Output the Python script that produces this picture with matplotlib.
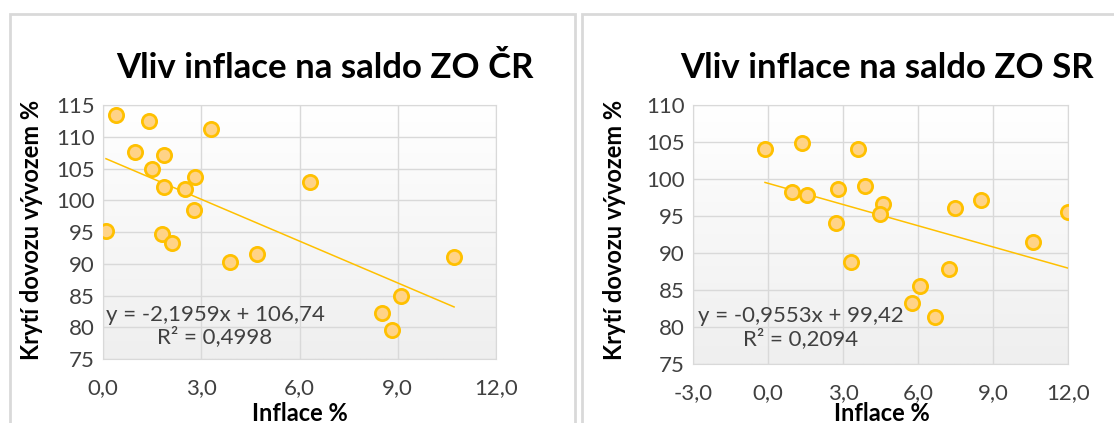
import numpy as np
import matplotlib.pyplot as plt
from matplotlib.patches import Rectangle

plt.rcParams['font.family'] = ['Lato', 'DejaVu Sans']

# data (inflation %, export/import coverage %)
cz_inflace = [0.41, 1.40, 3.29, 0.99, 1.87, 1.50, 2.81, 6.32, 1.87, 2.51,
              2.79, 0.09, 1.81, 2.11, 3.89, 4.69, 10.72, 9.10, 8.52, 8.82]
cz_kryti = [113.5, 112.5, 111.2, 107.6, 107.2, 105.0, 103.6, 102.8, 102.1, 101.8,
            98.5, 95.1, 94.7, 93.2, 90.3, 91.5, 91.1, 85.0, 82.3, 79.6]
cz_trend = (-2.1959, 106.74)
cz_r2 = 0.4998

sk_inflace = [-0.12, 1.36, 3.58, 0.96, 1.56, 2.81, 3.88, 4.59, 4.48, 2.70,
              7.46, 8.51, 11.98, 10.58, 3.32, 7.25, 6.07, 5.76, 6.69]
sk_kryti = [104.1, 104.8, 104.1, 98.2, 97.8, 98.7, 99.0, 96.6, 95.3, 94.1,
            96.1, 97.2, 95.5, 91.5, 88.8, 87.9, 85.5, 83.2, 81.4]
sk_trend = (-0.9553, 99.42)
sk_r2 = 0.2094

GOLD = '#FFC000'
FILL = '#FFD387'
GRID = '#d9d9d9'
TXT = '#404040'

fig = plt.figure(figsize=(11.14, 4.23), dpi=100)

# chart frames
for x0, w in [(10, 565), (582, 540)]:
    fig.add_artist(Rectangle((x0 / 1114, -0.1), w / 1114, (423 - 14) / 423 + 0.1,
                             transform=fig.transFigure, fill=False,
                             edgecolor=GRID, linewidth=2))


def fmt(v, _=None):
    return f'{v:.1f}'.replace('.', ',')


def draw(ax, x, y, trend, r2, xlim, ylim, title, title_x, ylab_x, xlab_x, eq_pos):
    grad = np.linspace(1, 0, 100).reshape(-1, 1)
    ax.imshow(grad, extent=[0, 1, 0, 1], transform=ax.transAxes, aspect='auto',
              cmap=plt.matplotlib.colors.LinearSegmentedColormap.from_list(
                  'g', ['#efefef', '#ffffff']), zorder=0)
    ax.scatter(x, y, s=105, facecolor=FILL, edgecolor=GOLD, linewidth=2, zorder=3)
    xs = np.array([min(x), max(x)])
    ax.plot(xs, trend[0] * xs + trend[1], color=GOLD, linewidth=1.1, zorder=2)
    ax.set_xlim(*xlim)
    ax.set_ylim(*ylim)
    ax.set_xticks(np.arange(xlim[0], xlim[1] + 0.1, 3))
    ax.set_yticks(np.arange(ylim[0], ylim[1] + 1, 5))
    ax.xaxis.set_major_formatter(fmt)
    ax.grid(color=GRID, linewidth=1)
    ax.set_axisbelow(True)
    ax.tick_params(length=0, labelsize=16, labelcolor=TXT, pad=6)
    ax.tick_params(axis='x', pad=14)
    for s in ax.spines.values():
        s.set_color(GRID)
    a, b = trend
    eq = f'y = {a:.4f}x + {b:.2f}'.replace('.', ',') + '\n' + \
        f'R² = {r2:.4f}'.replace('.', ',')
    ax.text(eq_pos[0], eq_pos[1], eq, ha='center', va='center', multialignment='center',
            fontsize=16, color=TXT, linespacing=1.1, zorder=4)
    fig.text(title_x / 1114, 1 - 68 / 423, title, ha='center', va='center',
             fontsize=25, fontweight='bold', color='black')
    fig.text(ylab_x / 1114, 1 - 230 / 423, 'Krytí dovozu vývozem %', rotation=90,
             ha='center', va='center', fontsize=17, fontweight='bold', color='black')
    fig.text(xlab_x / 1114, 1 - 413 / 423, 'Inflace %', ha='center', va='center',
             fontsize=17, fontweight='bold', color='black')


ax1 = fig.add_axes([103 / 1114, 1 - 359 / 423, 393 / 1114, 254 / 423])
draw(ax1, cz_inflace, cz_kryti, cz_trend, cz_r2, (0, 12), (75, 115),
     'Vliv inflace na saldo ZO ČR', 325, 32, 300, (3.42, 80.2))

ax2 = fig.add_axes([693 / 1114, 1 - 364 / 423, 375 / 1114, 259 / 423])
draw(ax2, sk_inflace, sk_kryti, sk_trend, sk_r2, (-3, 12), (75, 110),
     'Vliv inflace na saldo ZO SR', 887, 614, 882, (1.32, 79.9))

fig.savefig('out.png', dpi=100)
